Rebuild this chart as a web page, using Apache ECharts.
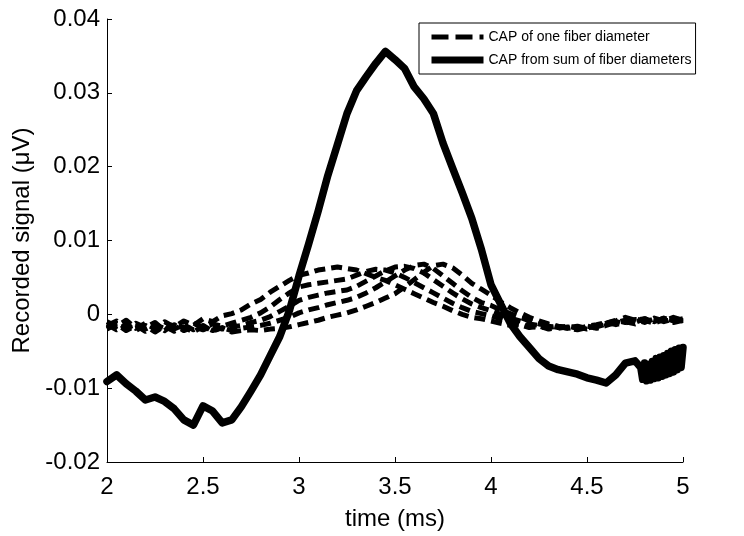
<!DOCTYPE html>
<html>
<head>
<meta charset="utf-8">
<script src="https://cdn.jsdelivr.net/npm/echarts@6/dist/echarts.min.js"></script>
<style>html,body{margin:0;padding:0;background:#fff}#chart{width:744px;height:536px}</style>
</head>
<body>
<div id="chart"></div>
<script>
// ---- data ----
const fiberTime = [2.00,2.05,2.10,2.15,2.20,2.25,2.30,2.35,2.40,2.45,2.50,2.55,2.60,2.65,2.70,2.75,2.80,2.85,2.90,2.95,
  3.00,3.05,3.10,3.15,3.20,3.25,3.30,3.35,3.40,3.45,3.50,3.55,3.60,3.65,3.70,3.75,3.80,3.85,3.90,3.95,
  4.00,4.05,4.10,4.15,4.20,4.25,4.30,4.35,4.40,4.45,4.50,4.55,4.60,4.65,4.70,4.75,4.80,4.85,4.90,4.95,5.00];

const fiber1 = [-0.0010,-0.0016,-0.0008,-0.0019,-0.0012,-0.0020,-0.0010,-0.0017,-0.0009,-0.0015,-0.0006,-0.0010,-0.0002,0.0001,0.0006,0.0014,0.0020,0.0030,0.0038,0.0046,
  0.0053,0.0056,0.0060,0.0062,0.0064,0.0062,0.0060,0.0055,0.0050,0.0046,0.0040,0.0034,0.0028,0.0022,0.0016,0.0011,0.0005,0.0000,-0.0004,-0.0006,
  -0.0009,-0.0012,-0.0015,-0.0014,-0.0018,-0.0016,-0.0020,-0.0017,-0.0019,-0.0021,-0.0018,-0.0016,-0.0012,-0.0009,-0.0004,-0.0008,-0.0006,-0.0010,-0.0005,-0.0009,-0.0006];

const fiber2 = [-0.0015,-0.0009,-0.0020,-0.0012,-0.0018,-0.0011,-0.0022,-0.0013,-0.0019,-0.0012,-0.0018,-0.0013,-0.0016,-0.0012,-0.0008,-0.0004,0.0002,0.0010,0.0020,0.0029,
  0.0037,0.0040,0.0042,0.0044,0.0046,0.0048,0.0053,0.0058,0.0061,0.0060,0.0056,0.0050,0.0043,0.0036,0.0029,0.0022,0.0015,0.0009,0.0004,0.0001,
  -0.0002,-0.0006,-0.0010,-0.0013,-0.0016,-0.0018,-0.0016,-0.0019,-0.0017,-0.0020,-0.0016,-0.0014,-0.0011,-0.0014,-0.0010,-0.0013,-0.0008,-0.0012,-0.0007,-0.0011,-0.0008];

const fiber3 = [-0.0020,-0.0013,-0.0022,-0.0015,-0.0023,-0.0016,-0.0021,-0.0014,-0.0022,-0.0017,-0.0021,-0.0016,-0.0020,-0.0017,-0.0015,-0.0011,-0.0008,-0.0003,0.0004,0.0011,
  0.0019,0.0023,0.0026,0.0029,0.0031,0.0033,0.0038,0.0045,0.0052,0.0059,0.0064,0.0065,0.0062,0.0056,0.0047,0.0038,0.0029,0.0021,0.0014,0.0009,
  0.0005,0.0000,-0.0005,-0.0009,-0.0013,-0.0015,-0.0018,-0.0016,-0.0019,-0.0017,-0.0020,-0.0017,-0.0013,-0.0010,-0.0012,-0.0007,-0.0011,-0.0006,-0.0010,-0.0006,-0.0009];

const fiber4 = [-0.0014,-0.0021,-0.0014,-0.0022,-0.0015,-0.0024,-0.0016,-0.0023,-0.0017,-0.0024,-0.0016,-0.0022,-0.0018,-0.0022,-0.0019,-0.0017,-0.0015,-0.0012,-0.0008,-0.0004,
  0.0002,0.0006,0.0009,0.0013,0.0016,0.0019,0.0023,0.0029,0.0036,0.0044,0.0052,0.0060,0.0066,0.0068,0.0062,0.0052,0.0042,0.0032,0.0023,0.0016,
  0.0012,0.0006,0.0001,-0.0004,-0.0009,-0.0013,-0.0015,-0.0018,-0.0016,-0.0019,-0.0016,-0.0019,-0.0015,-0.0011,-0.0008,-0.0011,-0.0006,-0.0010,-0.0005,-0.0009,-0.0005];

const fiber5 = [-0.0018,-0.0012,-0.0019,-0.0013,-0.0020,-0.0014,-0.0019,-0.0020,-0.0014,-0.0021,-0.0015,-0.0023,-0.0018,-0.0024,-0.0022,-0.0021,-0.0022,-0.0020,-0.0019,-0.0017,
  -0.0014,-0.0011,-0.0008,-0.0004,-0.0001,0.0002,0.0006,0.0011,0.0016,0.0022,0.0028,0.0037,0.0047,0.0057,0.0066,0.0068,0.0063,0.0053,0.0042,0.0034,
  0.0026,0.0017,0.0009,0.0002,-0.0004,-0.0009,-0.0013,-0.0016,-0.0018,-0.0016,-0.0019,-0.0015,-0.0012,-0.0008,-0.0011,-0.0006,-0.0010,-0.0005,-0.0009,-0.0004,-0.0008];

const sumTime = [2.00,2.05,2.10,2.15,2.20,2.25,2.30,2.35,2.40,2.45,2.50,2.55,2.60,2.65,2.70,2.75,2.80,2.85,2.90,2.95,
  3.00,3.05,3.10,3.15,3.20,3.25,3.30,3.35,3.40,3.45,3.50,3.55,3.60,3.65,3.70,3.75,3.80,3.85,3.90,3.95,
  4.00,4.05,4.10,4.15,4.20,4.25,4.30,4.35,4.40,4.45,4.50,4.55,4.60,4.65,4.70,4.75,
  4.78,4.79,4.80,4.81,4.82,4.83,4.84,4.85,4.86,4.87,4.88,4.89,4.90,4.91,4.92,4.93,4.94,4.95,4.96,4.97,4.98,4.99,5.00];

const sumCap = [-0.0091,-0.0082,-0.0094,-0.0104,-0.0116,-0.0112,-0.0118,-0.0128,-0.0143,-0.0150,-0.0124,-0.0131,-0.0147,-0.0143,-0.0125,-0.0104,-0.0082,-0.0056,-0.0030,0.0005,
  0.0052,0.0095,0.0140,0.0188,0.0230,0.0272,0.0303,0.0322,0.0340,0.0356,0.0345,0.0333,0.0308,0.0292,0.0272,0.0232,0.0198,0.0165,0.0130,0.0088,
  0.0040,0.0014,-0.0012,-0.0030,-0.0045,-0.0060,-0.0070,-0.0075,-0.0078,-0.0081,-0.0086,-0.0089,-0.0093,-0.0082,-0.0066,-0.0063,
  -0.0072,-0.0088,-0.0066,-0.0090,-0.0068,-0.0089,-0.0064,-0.0087,-0.0060,-0.0086,-0.0058,-0.0084,-0.0056,-0.0082,-0.0053,-0.0080,-0.0050,-0.0078,-0.0048,-0.0075,-0.0046,-0.0072,-0.0045];

const seriesNames = ['CAP of one fiber diameter', 'CAP from sum of fiber diameters'];
const xTicks = {min: 2, max: 5, step: 0.5};
const yTicks = {min: -0.02, max: 0.04, step: 0.01};
const axisTitles = {x: 'time (ms)', y: 'Recorded signal (\u03bcV)'};

// ---- chart ----
const FONT = "'Liberation Sans', Arial, Helvetica, sans-serif";
const zip = (xs, ys) => xs.map((x, i) => [x, ys[i]]);
const fibers = [fiber1, fiber2, fiber3, fiber4, fiber5];

const DASH = [11, 6];
const dashedStyle = {color: '#000', width: 5, type: DASH, cap: 'butt', join: 'round'};
const solidStyle = {color: '#000', width: 7.5, cap: 'round', join: 'round'};
const series = fibers.map(f => ({
  name: seriesNames[0], type: 'line', data: zip(fiberTime, f),
  showSymbol: false, symbol: 'none', lineStyle: dashedStyle, itemStyle: {color: '#000', opacity: 0},
  silent: true
}));
series.push({
  name: seriesNames[1], type: 'line', data: zip(sumTime, sumCap),
  showSymbol: false, symbol: 'none',
  lineStyle: solidStyle, itemStyle: {color: '#000', opacity: 0},
  silent: true
});

const chart = echarts.init(document.getElementById('chart'), null, {renderer: 'canvas'});
chart.setOption({
  animation: false,
  backgroundColor: '#fff',
  textStyle: {fontFamily: FONT, color: '#000'},
  grid: {left: 107, right: 61, top: 19, bottom: 65, containLabel: false},
  legend: {
    data: [
      {name: seriesNames[0], lineStyle: {width: 5, type: [17, 7], color: '#000', cap: 'butt'}},
      {name: seriesNames[1], lineStyle: {width: 7, type: 'solid', color: '#000', cap: 'butt'}}
    ],
    orient: 'vertical', left: 419, top: 23,
    padding: [7, 4, 7, 9], itemGap: 9, itemWidth: 52, itemHeight: 16,
    borderColor: '#000', borderWidth: 1, backgroundColor: '#fff',
    itemStyle: {opacity: 0},
    textStyle: {fontFamily: FONT, fontSize: 14, color: '#000'},
    selectedMode: false
  },
  xAxis: {
    type: 'value', min: xTicks.min, max: xTicks.max, interval: xTicks.step,
    name: axisTitles.x, nameLocation: 'middle', nameGap: 45,
    nameTextStyle: {fontFamily: FONT, fontSize: 24, color: '#000'},
    axisLine: {show: true, onZero: false, lineStyle: {color: '#000', width: 1}},
    axisTick: {show: true, inside: true, length: 5, lineStyle: {color: '#000'}},
    axisLabel: {fontFamily: FONT, fontSize: 24, color: '#000', margin: 13},
    splitLine: {show: false}
  },
  yAxis: {
    type: 'value', min: yTicks.min, max: yTicks.max, interval: yTicks.step,
    name: axisTitles.y, nameLocation: 'middle', nameGap: 70,
    nameTextStyle: {fontFamily: FONT, fontSize: 24, color: '#000'},
    axisLine: {show: true, onZero: false, lineStyle: {color: '#000', width: 1}},
    axisTick: {show: true, inside: true, length: 5, lineStyle: {color: '#000'}},
    axisLabel: {fontFamily: FONT, fontSize: 24, color: '#000', margin: 7,
      formatter: v => (Math.abs(v) < 1e-9 ? '0' : String(+v.toFixed(2)))},
    splitLine: {show: false}
  },
  series: series
});
</script>
</body>
</html>
